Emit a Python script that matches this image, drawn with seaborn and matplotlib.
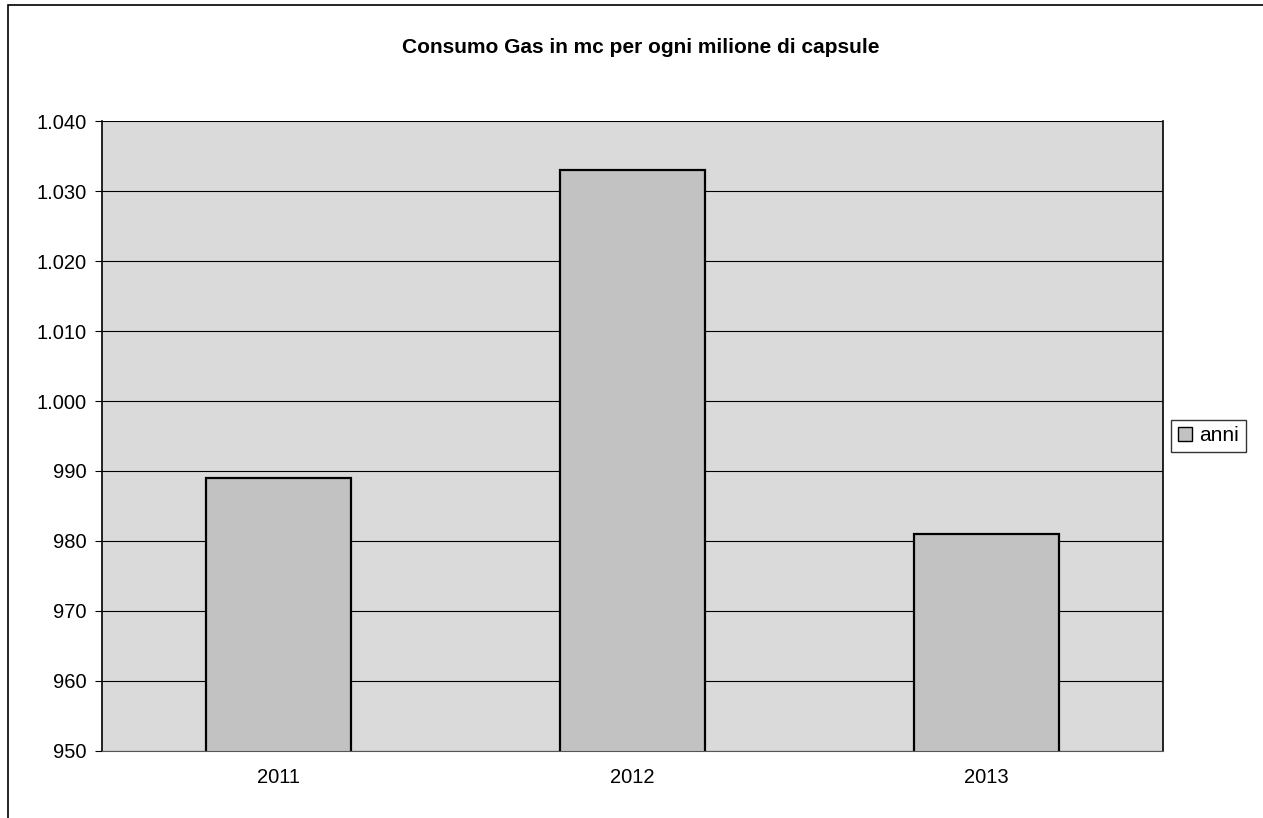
import numpy as np
import pandas as pd
import matplotlib
matplotlib.use('Agg')
import matplotlib.pyplot as plt
import seaborn as sns
from matplotlib.patches import Patch, Rectangle
from matplotlib.ticker import FuncFormatter, MultipleLocator

# dati
anni = ['2011', '2012', '2013']
consumo = [989, 1033, 981]
titolo = 'Consumo Gas in mc per ogni milione di capsule'

sns.set_style('white')
plt.rcParams['font.family'] = ['Liberation Sans', 'DejaVu Sans']
plt.rcParams['text.color'] = 'black'

df = pd.DataFrame({'anno': anni, 'consumo': consumo})

fig = plt.figure(figsize=(12.63, 8.18), dpi=100)
ax = fig.add_axes([0.0808, 0.082, 0.840, 0.770])
ax.set_facecolor('#dadada')

sns.barplot(data=df, x='anno', y='consumo', ax=ax, color='#c2c2c2',
            edgecolor='black', linewidth=1.6, width=0.41, saturation=1)

ax.set_ylim(950, 1040)
ax.set_xlim(-0.5, 2.5)
ax.yaxis.set_major_locator(MultipleLocator(10))
ax.yaxis.set_major_formatter(FuncFormatter(lambda v, p: f'{int(v):,}'.replace(',', '.')))
ax.grid(axis='y', color='black', linewidth=0.8)
ax.set_axisbelow(True)

ax.set_xlabel('')
ax.set_ylabel('')
ax.tick_params(axis='both', labelsize=14.5, colors='black', length=5, direction='out')
ax.tick_params(axis='x', length=0, pad=12)
# tacche x sui confini delle categorie
ax.set_xticks([-0.5, 0.5, 1.5, 2.5], minor=True)
ax.tick_params(axis='x', which='minor', length=5, color='gray')
ax.tick_params(axis='y', left=True, pad=6)

for s in ['left', 'right']:
    ax.spines[s].set_color('black')
    ax.spines[s].set_linewidth(1.2)
ax.spines['top'].set_visible(False)
ax.spines['bottom'].set_color('#555555')

ax.legend(handles=[Patch(facecolor='#c2c2c2', edgecolor='black', label='anni')],
          loc='center left', bbox_to_anchor=(1.008, 0.5), fontsize=15,
          frameon=True, fancybox=False, edgecolor='black', handlelength=0.7,
          handleheight=0.7, handletextpad=0.35, borderpad=0.3, borderaxespad=0)

fig.text(0.507, 0.942, titolo, ha='center', va='center', fontsize=15,
         fontweight='bold', color='black')

fig.patches.append(Rectangle((0.006, -0.01), 1.0, 1.004, transform=fig.transFigure,
                             fill=False, edgecolor='black', linewidth=1.2))

plt.savefig('out.png', dpi=100)
